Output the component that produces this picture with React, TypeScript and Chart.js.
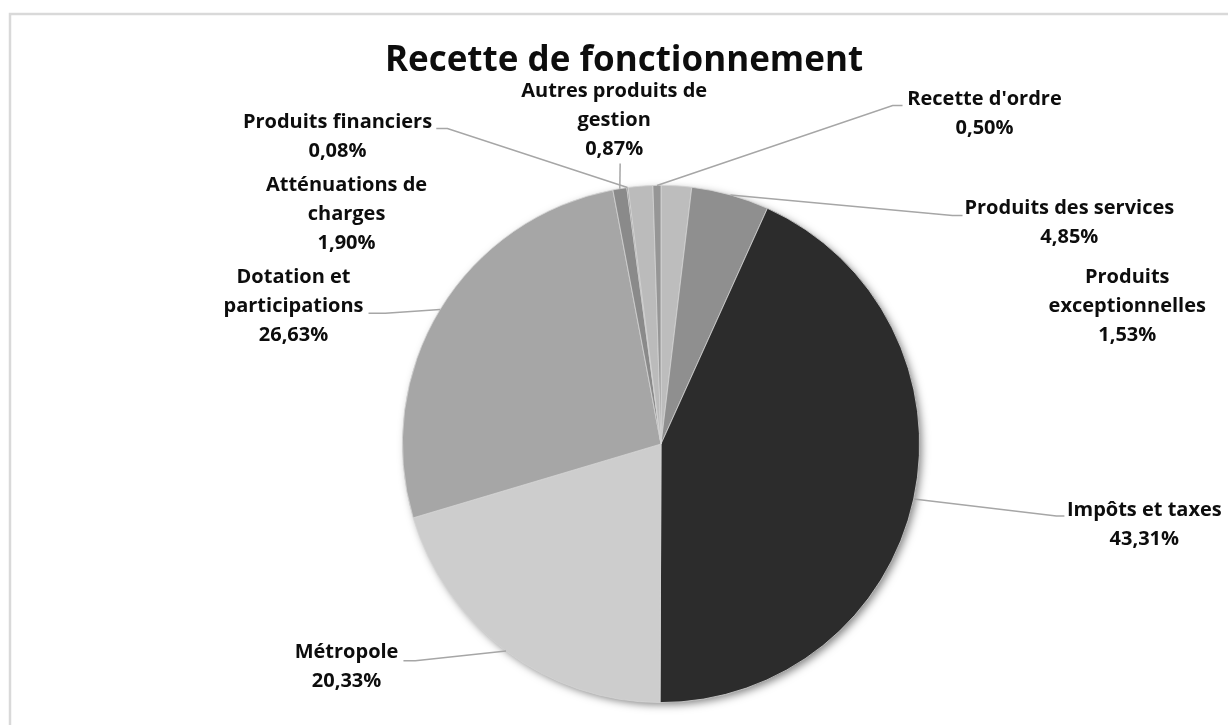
import React, { useEffect, useRef } from 'react';
import { Chart, registerables } from 'chart.js';

Chart.register(...registerables);

// ---------- data ----------
const chartTitle = 'Recette de fonctionnement';
const categories = [
  'Atténuations de charges',
  'Produits des services',
  'Impôts et taxes',
  'Métropole',
  'Dotation et participations',
  'Autres produits de gestion',
  'Produits financiers',
  'Produits exceptionnelles',
  "Recette d'ordre",
];
const labelLines = [
  ['Atténuations de', 'charges'],
  ['Produits des services'],
  ['Impôts et taxes'],
  ['Métropole'],
  ['Dotation et', 'participations'],
  ['Autres produits de', 'gestion'],
  ['Produits financiers'],
  ['Produits', 'exceptionnelles'],
  ["Recette d'ordre"],
];
const shares = [1.9, 4.85, 43.31, 20.33, 26.63, 0.87, 0.08, 1.53, 0.5];
const sliceColors = ['#bdbdbd', '#8f8f8f', '#2c2c2c', '#cdcdcd', '#a6a6a6', '#8a8a8a', '#7a7a7a', '#bbbbbb', '#969696'];

// ---------- label layout (in units of the pie radius, relative to its centre) ----------
// lx, ly: centre of first text line; ex, ey: leader end at label; kx: leader knee x (null = no leader)
const labelLayout = [
  { lx: -1.216, ly: -1.0, ex: null, ey: null, kx: null },
  { lx: 1.579, ly: -0.911, ex: 1.166, ey: -0.884, kx: 1.127 },
  { lx: 1.869, ly: 0.255, ex: 1.56, ey: 0.278, kx: 1.529 },
  { lx: -1.216, ly: 0.807, ex: -0.996, ey: 0.838, kx: -0.95 },
  { lx: -1.421, ly: -0.645, ex: -1.131, ey: -0.506, kx: -1.066 },
  { lx: -0.181, ly: -1.363, ex: -0.158, ey: -1.085, kx: -0.158 },
  { lx: -1.251, ly: -1.243, ex: -0.869, ey: -1.22, kx: -0.826 },
  { lx: 1.803, ly: -0.645, ex: null, ey: null, kx: null },
  { lx: 1.251, ly: -1.332, ex: 0.934, ey: -1.309, kx: 0.896 },
];

const W = 1228;
const H = 725;
const FONT = '"Open Sans", Lato, "DejaVu Sans", sans-serif';

const fmt = (v: number) => v.toFixed(2).replace('.', ',') + '%';

const decorPlugin = {
  id: 'decor',
  beforeDraw(chart: any) {
    const ctx = chart.ctx;
    ctx.save();
    ctx.fillStyle = '#ffffff';
    ctx.fillRect(0, 0, chart.width, chart.height);
    ctx.strokeStyle = '#d9d9d9';
    ctx.lineWidth = 2.5;
    ctx.strokeRect(10, 14, chart.width + 20, chart.height + 20);
    ctx.fillStyle = '#0d0d0d';
    ctx.font = `bold 35px ${FONT}`;
    ctx.textAlign = 'center';
    ctx.textBaseline = 'middle';
    ctx.fillText(chartTitle, 624, 61);
    ctx.restore();
  },
  beforeDatasetsDraw(chart: any) {
    const meta = chart.getDatasetMeta(0);
    const arc = meta.data[0];
    if (!arc) return;
    const { x, y, outerRadius } = arc.getProps(['x', 'y', 'outerRadius'], true);
    const ctx = chart.ctx;
    ctx.save();
    ctx.shadowColor = 'rgba(0,0,0,0.5)';
    ctx.shadowBlur = 9;
    ctx.shadowOffsetX = 3;
    ctx.shadowOffsetY = 3;
    ctx.fillStyle = '#999';
    ctx.beginPath();
    ctx.arc(x, y, outerRadius - 1, 0, Math.PI * 2);
    ctx.fill();
    ctx.restore();
  },
  afterDatasetsDraw(chart: any) {
    const meta = chart.getDatasetMeta(0);
    const ctx = chart.ctx;
    ctx.save();
    meta.data.forEach((el: any, i: number) => {
      const { x, y, startAngle, endAngle, outerRadius } = el.getProps(
        ['x', 'y', 'startAngle', 'endAngle', 'outerRadius'],
        true
      );
      const R = outerRadius;
      const mid = (startAngle + endAngle) / 2;
      const px = x + Math.cos(mid) * R;
      const py = y + Math.sin(mid) * R;
      const L = labelLayout[i];
      if (L.ex !== null) {
        ctx.strokeStyle = '#a6a6a6';
        ctx.lineWidth = 1.5;
        ctx.beginPath();
        ctx.moveTo(px, py);
        ctx.lineTo(x + (L.kx as number) * R, y + (L.ey as number) * R);
        ctx.lineTo(x + (L.ex as number) * R, y + (L.ey as number) * R);
        ctx.stroke();
      }
      const lines = [...labelLines[i], fmt(shares[i])];
      ctx.fillStyle = '#0d0d0d';
      ctx.font = `bold 20px ${FONT}`;
      ctx.textAlign = 'center';
      ctx.textBaseline = 'middle';
      lines.forEach((t, j) => {
        ctx.fillText(t, x + L.lx * R, y + L.ly * R + j * 29);
      });
    });
    ctx.restore();
  },
};

export default function App() {
  const ref = useRef<HTMLCanvasElement | null>(null);
  useEffect(() => {
    document.body.style.margin = '0';
    const canvas = ref.current;
    if (!canvas) return;
    const chart = new Chart(canvas, {
      type: 'pie',
      data: {
        labels: categories,
        datasets: [
          {
            data: shares,
            backgroundColor: sliceColors,
            borderColor: '#d4d4d4',
            borderWidth: 0.8,
            hoverOffset: 0,
          },
        ],
      },
      options: {
        animation: false,
        responsive: false,
        maintainAspectRatio: false,
        rotation: 0,
        layout: { padding: { top: 185, bottom: 22, left: 402, right: 308 } },
        plugins: {
          legend: { display: false },
          tooltip: { enabled: false },
          title: { display: false },
        },
      },
      plugins: [decorPlugin],
    });
    return () => chart.destroy();
  }, []);
  return (
    <div style={{ width: W, height: H }}>
      <canvas ref={ref} width={W} height={H} style={{ display: 'block', width: W, height: H }} />
    </div>
  );
}
